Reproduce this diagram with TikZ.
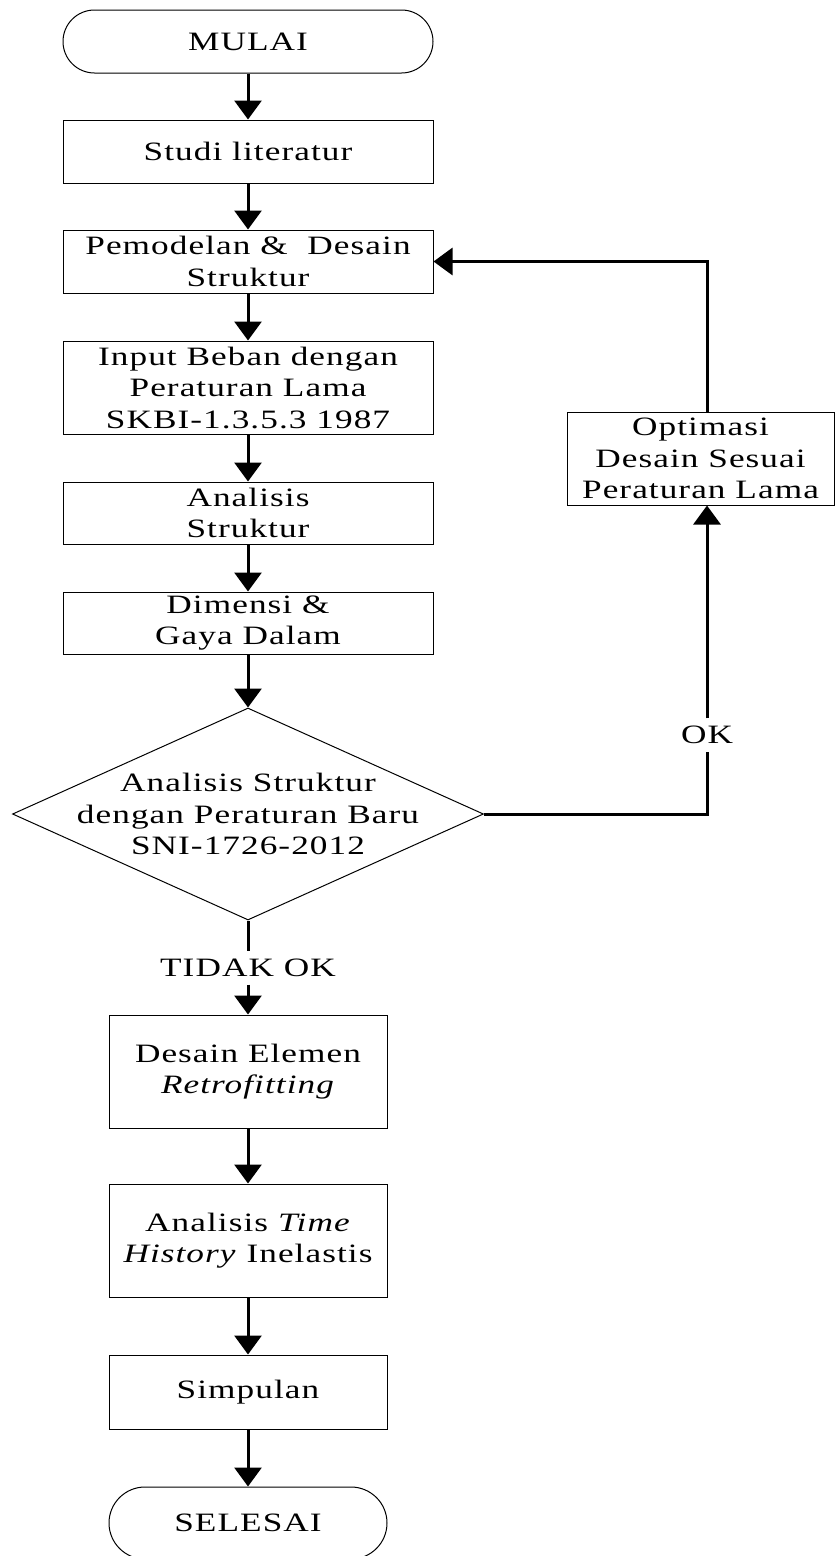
\documentclass[tikz,border=0pt]{standalone}
\usepackage{fontspec}
\setmainfont{Liberation Serif}[FakeStretch=1.33,LetterSpace=4]
\usetikzlibrary{shapes.geometric,shapes.misc,arrows.meta,calc}
\begin{document}
\begin{tikzpicture}[x=1pt,y=-1pt,
  every node/.style={font=\fontsize{26.5}{31.5}\selectfont, align=center, inner sep=0pt},
  box/.style={draw, line width=1pt, rectangle},
  term/.style={draw, line width=1pt, rounded rectangle},
  conn/.style={line width=3pt},
  arr/.style={conn, -{Triangle[width=27pt,length=19pt]}},
]
\useasboundingbox (0,0) rectangle (835,1556);
\fill[white] (0,0) rectangle (835,1556);

\node[term, minimum width=370pt, minimum height=63pt] (mulai) at (248,41.5) {MULAI};
\node[box, minimum width=370pt, minimum height=63pt] (studi) at (248,151.5) {Studi literatur};
\node[box, minimum width=370pt, minimum height=63pt] (model) at (248,261.5) {Pemodelan \&~ Desain\\Struktur};
\node[box, minimum width=370pt, minimum height=93pt] (input) at (248,387.5) {Input Beban dengan\\Peraturan Lama\\SKBI-1.3.5.3 1987};
\node[box, minimum width=370pt, minimum height=62pt] (anal) at (248,513) {Analisis\\Struktur};
\node[box, minimum width=370pt, minimum height=62pt] (dim) at (248,623) {Dimensi \&\\Gaya Dalam};
\node[draw, line width=1pt, diamond, aspect=2.22, minimum width=471pt, minimum height=212pt] (dia) at (248,814) {};
\node (diat) at (248,814) {Analisis Struktur\\dengan Peraturan Baru\\SNI-1726-2012};
\node[minimum height=33pt] (tidak) at (248,968) {TIDAK OK};
\node[box, minimum width=278pt, minimum height=113pt] (desain) at (248,1071.5) {Desain Elemen\\\textit{Retrofitting}};
\node[box, minimum width=278pt, minimum height=113pt] (hist) at (248,1240.5) {Analisis \textit{Time}\\\textit{History} Inelastis};
\node[box, minimum width=278pt, minimum height=74pt] (simp) at (248,1392) {Simpulan};
\node[term, minimum width=278pt, minimum height=72pt] (selesai) at (248,1523) {SELESAI};
\node[box, minimum width=267pt, minimum height=93pt] (opt) at (700.5,458.5) {Optimasi\\Desain Sesuai\\Peraturan Lama};
\node[minimum height=33pt] (ok) at (707,735) {OK};

\draw[arr] (mulai) -- (studi);
\draw[arr] (studi) -- (model);
\draw[arr] (model) -- (input);
\draw[arr] (input) -- (anal);
\draw[arr] (anal) -- (dim);
\draw[arr] (dim) -- (dia.north);
\draw[conn] (dia.south) -- (tidak.north);
\draw[arr] (tidak.south) -- (desain.north);
\draw[arr] (desain) -- (hist);
\draw[arr] (hist) -- (simp);
\draw[arr] (simp) -- (selesai);
\draw[conn] (dia.east) -| (ok.south);
\draw[arr] (ok.north) -- (ok |- opt.south);
\draw[arr] (ok |- opt.north) |- (model.east);
\end{tikzpicture}
\end{document}
